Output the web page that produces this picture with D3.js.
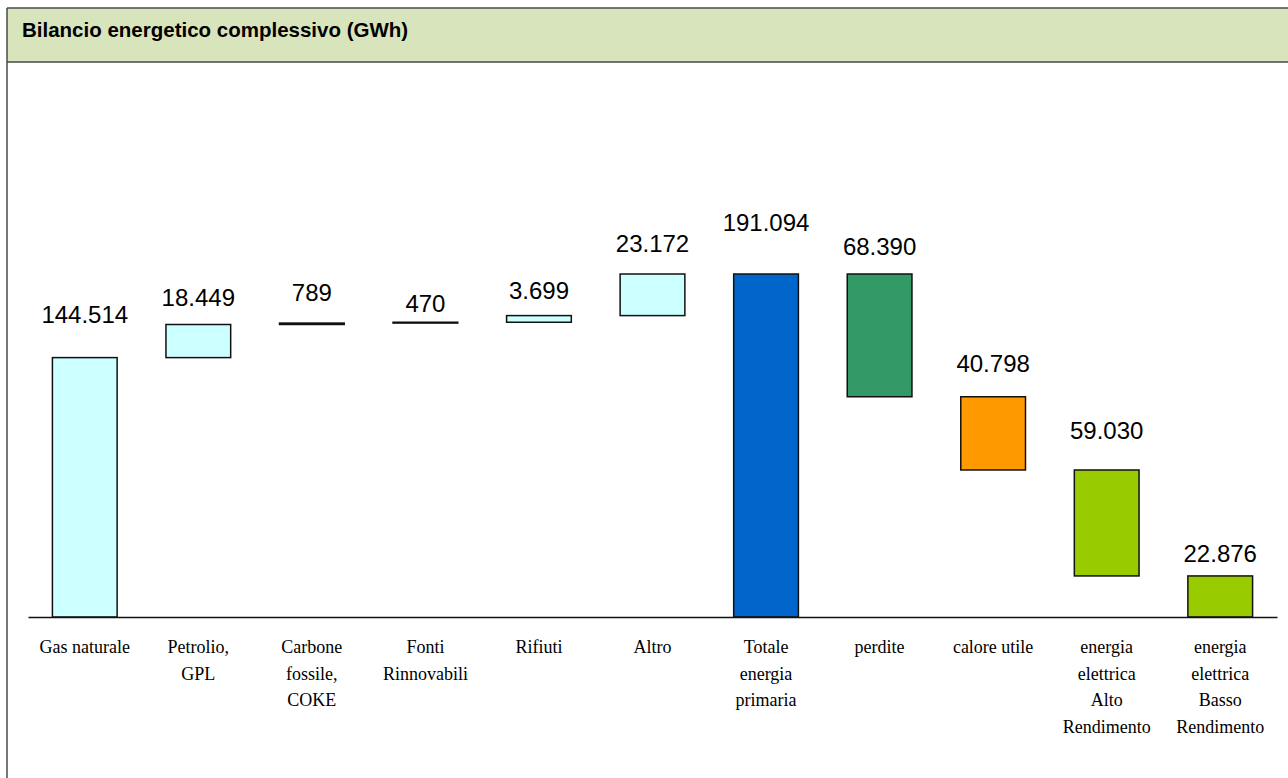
<!DOCTYPE html>
<html>
<head>
<meta charset="utf-8">
<title>Bilancio energetico complessivo</title>
<script src="https://d3js.org/d3.v7.min.js"></script>
<style>
  body { margin: 0; background: #fff; }
  .title { font-family: "Liberation Sans", Arial, sans-serif; font-size: 20.5px; font-weight: bold; fill: #000; }
  .val { font-family: "Liberation Sans", Arial, sans-serif; font-size: 24px; fill: #000; text-anchor: middle; }
  .cat { font-family: "Liberation Serif", "Times New Roman", serif; font-size: 18px; fill: #000; text-anchor: middle; }
</style>
</head>
<body>
<script>
// categorie e valori (GWh)
var categories = ["Gas naturale", "Petrolio, GPL", "Carbone fossile, COKE", "Fonti Rinnovabili",
  "Rifiuti", "Altro", "Totale energia primaria", "perdite", "calore utile",
  "energia elettrica Alto Rendimento", "energia elettrica Basso Rendimento"];
var catLines = [["Gas naturale"], ["Petrolio,", "GPL"], ["Carbone", "fossile,", "COKE"], ["Fonti", "Rinnovabili"],
  ["Rifiuti"], ["Altro"], ["Totale", "energia", "primaria"], ["perdite"], ["calore utile"],
  ["energia", "elettrica", "Alto", "Rendimento"], ["energia", "elettrica", "Basso", "Rendimento"]];
var values = [144514, 18449, 789, 470, 3699, 23172, 191094, 68390, 40798, 59030, 22876];
var kinds = ["up", "up", "up", "up", "up", "up", "total", "down", "down", "down", "down"];

// stile
var colors = ["#ccffff", "#ccffff", "#ccffff", "#ccffff", "#ccffff", "#ccffff",
  "#0066cc", "#339966", "#ff9900", "#99cc00", "#99cc00"];
var labelGap = [35, 18, 22, 10, 17, 22, 43, 19, 25, 31, 14];

var W = 1288, H = 778;
var svg = d3.select("body").append("svg").attr("width", W).attr("height", H);

// cornice e barra del titolo
svg.append("rect").attr("x", 7).attr("y", 8).attr("width", W).attr("height", 54)
  .attr("fill", "#d8e4bc");
svg.append("line").attr("x1", 7).attr("x2", W).attr("y1", 8).attr("y2", 8)
  .attr("stroke", "#4a4a4a").attr("stroke-width", 1.5);
svg.append("line").attr("x1", 7).attr("x2", W).attr("y1", 62).attr("y2", 62)
  .attr("stroke", "#4a4a4a").attr("stroke-width", 1.5);
svg.append("line").attr("x1", 7).attr("x2", 7).attr("y1", 8).attr("y2", H)
  .attr("stroke", "#4a4a4a").attr("stroke-width", 1.5);
svg.append("text").attr("class", "title").attr("x", 22).attr("y", 37)
  .text("Bilancio energetico complessivo (GWh)");

// calcolo cascata
var fmt = d3.formatLocale({ decimal: ",", thousands: ".", grouping: [3] }).format(",d");
var run = 0;
var data = categories.map(function(c, i) {
  var v = values[i], y0, y1;
  if (kinds[i] === "up") { y0 = run; y1 = run + v; run = y1; }
  else if (kinds[i] === "total") { y0 = 0; y1 = v; run = v; }
  else { y1 = run; y0 = run - v; run = y0; }
  return { cat: c, lines: catLines[i], v: v, y0: y0, y1: y1, color: colors[i], gap: labelGap[i] };
});

var x = d3.scaleBand().domain(categories).range([28, 1277]).paddingInner(0.43).paddingOuter(0.215);
var y = d3.scaleLinear().domain([0, d3.max(values)]).range([617, 274]);

var g = svg.append("g");
g.selectAll(".bar").data(data).enter().append("rect")
  .attr("class", "bar")
  .attr("x", function(d) { return x(d.cat); })
  .attr("width", x.bandwidth())
  .attr("y", function(d) { return y(d.y1); })
  .attr("height", function(d) { return Math.max(0.5, y(d.y0) - y(d.y1)); })
  .attr("fill", function(d) { return d.color; })
  .attr("stroke", "#111")
  .attr("stroke-width", 1.5);

g.selectAll(".val").data(data).enter().append("text")
  .attr("class", "val")
  .attr("x", function(d) { return x(d.cat) + x.bandwidth() / 2; })
  .attr("y", function(d) { return y(d.y1) - d.gap; })
  .text(function(d) { return fmt(d.v); });

// asse x
var xAxis = d3.axisBottom(x).tickSize(0).tickFormat("");
var ax = svg.append("g").attr("transform", "translate(0," + y(0) + ")").call(xAxis);
ax.select(".domain").attr("stroke", "#111").attr("stroke-width", 1.5);

var cats = g.selectAll(".cat").data(data).enter().append("text")
  .attr("class", "cat")
  .attr("y", 653);
cats.selectAll("tspan").data(function(d) {
    return d.lines.map(function(l) { return { t: l, cx: x(d.cat) + x.bandwidth() / 2 }; });
  }).enter().append("tspan")
  .attr("x", function(d) { return d.cx; })
  .attr("dy", function(d, i) { return i === 0 ? 0 : 26.7; })
  .text(function(d) { return d.t; });
</script>
</body>
</html>
